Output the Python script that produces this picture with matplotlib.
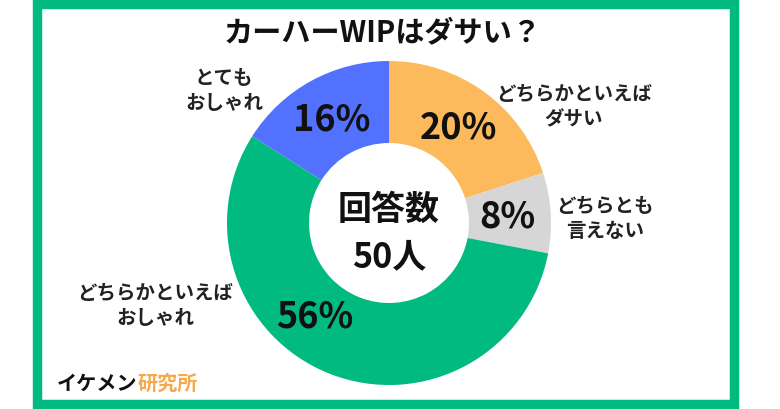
import numpy as np
import matplotlib
matplotlib.use('Agg')
import matplotlib.pyplot as plt
from matplotlib.patches import Rectangle

plt.rcParams['font.family'] = ['Noto Sans CJK JP', 'DejaVu Sans']

title = 'カーハーWIPはダサい？'
labels = ['どちらかといえば\nダサい', 'どちらとも\n言えない', 'どちらかといえば\nおしゃれ', 'とても\nおしゃれ']
values = [20, 8, 56, 16]
colors = ['#FDBA5C', '#D6D6D6', '#00BA80', '#5271FF']
center_text = ['回答数', '50人']

W, H = 780, 410
fig = plt.figure(figsize=(7.8, 4.1), dpi=100)
ax = fig.add_axes([0, 0, 1, 1])

cx, cy = 389, H - 224
R = 162
width = 82

wedges, _ = ax.pie(values, colors=colors, startangle=90, counterclock=False,
                   radius=R, center=(cx, cy), wedgeprops=dict(width=width, linewidth=0),
                   frame=True)
ax.set_xlim(0, W)
ax.set_ylim(0, H)
ax.set_aspect('equal')
ax.axis('off')

# percentage labels in the middle of the ring
nudge = [0, 0, -17, 0]
for w, v, nd in zip(wedges, values, nudge):
    ang = np.deg2rad((w.theta1 + w.theta2) / 2 + nd)
    r = R - width / 2 - 2
    ax.text(cx + r * np.cos(ang), cy + r * np.sin(ang), f'{v}%',
            ha='center', va='center', fontsize=26, fontweight='semibold', color='#111111')

# outside labels
label_pos = [(574, 107), (605, 219), (155, 306), (224, 91)]
for lab, (x, y) in zip(labels, label_pos):
    ax.text(x, H - y, lab, ha='center', va='center', fontsize=14, fontweight='bold',
            color='#222222', linespacing=1.4)

ax.text(cx, H - 209, center_text[0], ha='center', va='center', fontsize=24.5,
        fontweight='bold', color='#111111')
ax.text(cx, H - 257, center_text[1], ha='center', va='center', fontsize=24.5,
        fontweight='bold', color='#111111')

ax.text(383, H - 32, title, ha='center', va='center', fontsize=21, fontweight='bold',
        color='#111111')

# brand text
t1 = ax.text(57, H - 383, 'イケメン', ha='left', va='center', fontsize=14.5,
             fontweight='bold', color='#111111')
fig.canvas.draw()
bb = t1.get_window_extent().transformed(ax.transData.inverted())
ax.text(bb.x1, H - 383, '研究所', ha='left', va='center', fontsize=14.5,
        fontweight='bold', color='#F5A94A')

# green frame
ax.add_patch(Rectangle((36.5, 5), 698, 400.5, fill=False, edgecolor='#00BA80',
                       linewidth=6.8, joinstyle='miter'))

fig.savefig('out.png', dpi=100)
